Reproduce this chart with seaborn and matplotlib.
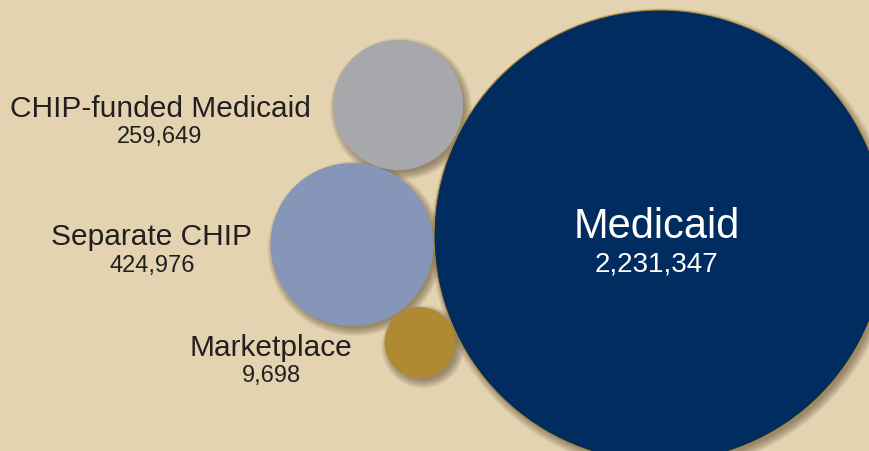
import numpy as np
import pandas as pd
import matplotlib.pyplot as plt
import seaborn as sns

# enrollment by coverage source
programs = ['CHIP-funded Medicaid', 'Separate CHIP', 'Marketplace', 'Medicaid']
enrollment = [259649, 424976, 9698, 2231347]
colors = ['#a7a8ab', '#8696b9', '#b08a33', '#002c60']

# bubble layout in pixels (sizes are stylised, not proportional)
cx = [398, 352, 420, 660]
cy = [106, 245.5, 343.5, 237]
radius = [65, 81.5, 35.5, 226]

W, H, DPI = 870, 452, 100
bg = '#e4d3b1'

df = pd.DataFrame({'program': programs, 'enrollment': enrollment,
                   'x': cx, 'y': cy, 'r': radius})

sns.set_theme(style='white')
plt.rcParams['font.family'] = ['Liberation Sans', 'DejaVu Sans']

fig = plt.figure(figsize=(W / DPI, H / DPI), dpi=DPI, facecolor=bg)
ax = fig.add_axes([0, 0, 1, 1])
ax.set_facecolor(bg)
ax.set_xlim(0, W)
ax.set_ylim(H, 0)
ax.axis('off')

def pt_size(r):
    # scatter size (points^2) for a circle of radius r pixels
    return (2 * np.asarray(r) * 72 / DPI) ** 2

# soft drop shadow
for k in range(10):
    sns.scatterplot(x=df['x'] + 3, y=df['y'] + 4, s=pt_size(df['r'] - 2 + k * 0.9),
                    color='#4a3a22', alpha=0.06, linewidth=0, legend=False, ax=ax)

pal = dict(zip(programs, colors))
sz = dict(zip(programs, pt_size(radius)))
small = df[df['program'] != 'Medicaid']
big = df[df['program'] == 'Medicaid']

sns.scatterplot(data=small, x='x', y='y', hue='program', size='program',
                palette=pal, sizes=sz, linewidth=0, alpha=1, legend=False, ax=ax)
sns.scatterplot(data=big, x='x', y='y', hue='program', size='program',
                palette=pal, sizes=sz, edgecolor='#b08a33', linewidth=0.8,
                alpha=1, legend=False, ax=ax)

txt = '#231f20'
# labels to the left of the small bubbles
side = [(160, 117, 143), (152, 245, 272), (271, 356, 382)]
for (name, val), (tx, yb1, yb2) in zip(zip(programs[:3], enrollment[:3]), side):
    ax.text(tx, yb1, name, ha='center', va='baseline', fontsize=21.5, color=txt)
    ax.text(tx, yb2, f'{val:,}', ha='center', va='baseline', fontsize=17, color=txt)

ax.text(657, 238, programs[3], ha='center', va='baseline', fontsize=30, color='white')
ax.text(656, 272, f'{enrollment[3]:,}', ha='center', va='baseline', fontsize=20, color='white')

fig.savefig('out.png', dpi=DPI, facecolor=bg)
